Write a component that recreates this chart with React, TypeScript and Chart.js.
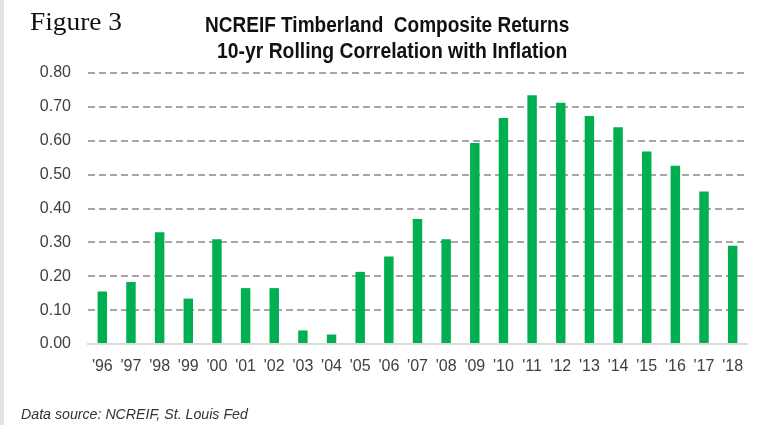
import React, { useEffect, useLayoutEffect, useRef } from "react";
import { Chart, registerables } from "chart.js";

Chart.register(...registerables);

const categories = ["'96", "'97", "'98", "'99", "'00", "'01", "'02", "'03", "'04", "'05", "'06", "'07", "'08", "'09", "'10", "'11", "'12", "'13", "'14", "'15", "'16", "'17", "'18"];
const correlation = [0.155, 0.183, 0.33, 0.134, 0.309, 0.165, 0.165, 0.04, 0.028, 0.213, 0.258, 0.369, 0.309, 0.593, 0.667, 0.734, 0.712, 0.673, 0.64, 0.568, 0.526, 0.45, 0.29];
const titleLines = ["NCREIF Timberland  Composite Returns", "10-yr Rolling Correlation with Inflation"];
const figureLabel = "Figure 3";
const sourceNote = "Data source: NCREIF, St. Louis Fed";

const SANS = "'Liberation Sans', Arial, sans-serif";

type FitProps = {
  text: string;
  left: number;
  top: number;
  width: number;
  style: React.CSSProperties;
};

function FitText({ text, left, top, width, style }: FitProps) {
  const ref = useRef<HTMLSpanElement | null>(null);
  useLayoutEffect(() => {
    const el = ref.current;
    if (!el) return;
    el.style.transform = "none";
    const w = el.offsetWidth;
    if (w > 0) el.style.transform = `scaleX(${width / w})`;
  }, [text, width]);
  return (
    <span
      ref={ref}
      style={{
        position: "absolute",
        left,
        top,
        whiteSpace: "pre",
        display: "inline-block",
        transformOrigin: "0 0",
        ...style,
      }}
    >
      {text}
    </span>
  );
}

export default function App() {
  const canvasRef = useRef<HTMLCanvasElement | null>(null);

  useEffect(() => {
    if (!canvasRef.current) return;
    const chart = new Chart(canvasRef.current, {
      type: "bar",
      data: {
        labels: categories,
        datasets: [
          {
            data: correlation,
            backgroundColor: "#00B050",
            borderWidth: 0,
            barPercentage: 0.33,
            categoryPercentage: 1,
          },
        ],
      },
      options: {
        animation: false,
        responsive: true,
        maintainAspectRatio: false,
        layout: { padding: { top: 73, left: 0, right: 20, bottom: 49 } },
        plugins: {
          legend: { display: false },
          title: { display: false },
          tooltip: { enabled: false },
        },
        scales: {
          x: {
            afterFit: (scale: any) => {
              scale.height = 32;
            },
            grid: { display: false, drawTicks: false },
            border: { display: true, color: "#D9D9D9", width: 2 },
            ticks: {
              color: "#404040",
              padding: 13,
              maxRotation: 0,
              autoSkip: false,
              font: { family: SANS, size: 16, lineHeight: 1.2 },
            },
          },
          y: {
            min: 0,
            max: 0.8,
            afterFit: (scale: any) => {
              scale.width = 88;
            },
            grid: {
              drawTicks: false,
              color: (ctx: any) => (ctx.tick && ctx.tick.value === 0 ? "rgba(0,0,0,0)" : "#A6A6A6"),
              lineWidth: 2,
            },
            border: { display: false, dash: [7, 4] },
            ticks: {
              stepSize: 0.1,
              color: "#404040",
              padding: 17,
              font: { family: SANS, size: 16 },
              callback: (v: any) => Number(v).toFixed(2),
            },
          },
        },
      },
    });
    return () => chart.destroy();
  }, []);

  return (
    <div style={{ position: "absolute", left: 0, top: 0, width: 767, height: 425, background: "#fff", overflow: "hidden" }}>
      <div style={{ position: "absolute", left: 0, top: 0, width: 4, height: 425, background: "#E4E4E4" }} />
      <canvas ref={canvasRef} style={{ position: "absolute", left: 0, top: 0 }} />
      <FitText
        text={figureLabel}
        left={30}
        top={7}
        width={92}
        style={{ fontFamily: "'Liberation Serif', 'Times New Roman', serif", fontSize: 25, lineHeight: "30px", color: "#111" }}
      />
      <FitText
        text={titleLines[0]}
        left={205}
        top={12}
        width={364}
        style={{ fontFamily: SANS, fontWeight: "bold", fontSize: 22, lineHeight: "26px", color: "#111" }}
      />
      <FitText
        text={titleLines[1]}
        left={217}
        top={38}
        width={350}
        style={{ fontFamily: SANS, fontWeight: "bold", fontSize: 22, lineHeight: "26px", color: "#111" }}
      />
      <FitText
        text={sourceNote}
        left={21}
        top={405}
        width={227}
        style={{ fontFamily: SANS, fontStyle: "italic", fontSize: 15, lineHeight: "18px", color: "#333" }}
      />
    </div>
  );
}
